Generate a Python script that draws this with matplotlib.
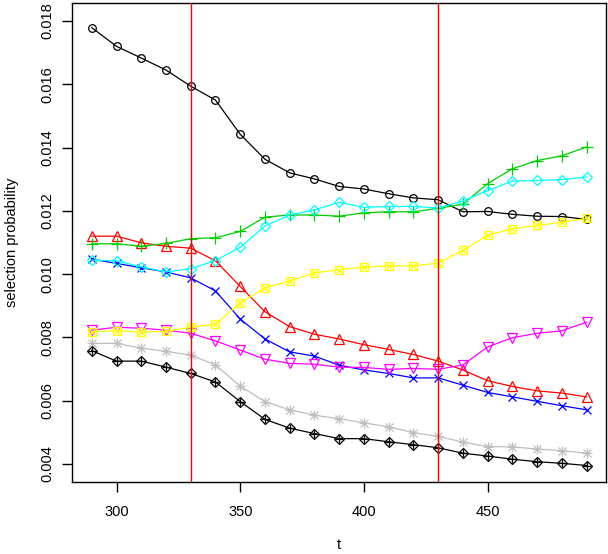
import numpy as np
import matplotlib.pyplot as plt

plt.rcParams['font.family'] = ['Liberation Sans', 'DejaVu Sans']

t = np.arange(290, 500, 10)

# selection probabilities per series
s1 = [0.01779, 0.01720, 0.01683, 0.01645, 0.01594, 0.01550, 0.01442, 0.01363, 0.01320, 0.01301, 0.01277,
      0.01269, 0.01254, 0.01241, 0.01235, 0.01197, 0.01198, 0.01189, 0.01183, 0.01182, 0.01173]
s2 = [0.01120, 0.01120, 0.01099, 0.01088, 0.01082, 0.01042, 0.00961, 0.00881, 0.00834, 0.00810, 0.00795,
      0.00777, 0.00762, 0.00746, 0.00725, 0.00697, 0.00663, 0.00645, 0.00631, 0.00624, 0.00612]
s3 = [0.01096, 0.01096, 0.01088, 0.01097, 0.01112, 0.01115, 0.01135, 0.01180, 0.01187, 0.01187, 0.01183,
      0.01194, 0.01197, 0.01197, 0.01208, 0.01221, 0.01286, 0.01333, 0.01359, 0.01374, 0.01402]
s4 = [0.01047, 0.01034, 0.01020, 0.01007, 0.00988, 0.00947, 0.00858, 0.00795, 0.00754, 0.00741, 0.00712,
      0.00697, 0.00686, 0.00672, 0.00672, 0.00649, 0.00626, 0.00612, 0.00598, 0.00584, 0.00571]
s5 = [0.01044, 0.01042, 0.01023, 0.01007, 0.01017, 0.01043, 0.01085, 0.01152, 0.01187, 0.01203, 0.01227,
      0.01211, 0.01214, 0.01214, 0.01209, 0.01231, 0.01264, 0.01294, 0.01296, 0.01299, 0.01307]
s6 = [0.00823, 0.00832, 0.00829, 0.00823, 0.00813, 0.00789, 0.00760, 0.00731, 0.00718, 0.00715, 0.00706,
      0.00705, 0.00699, 0.00702, 0.00699, 0.00713, 0.00770, 0.00799, 0.00813, 0.00821, 0.00848]
s7 = [0.00818, 0.00821, 0.00817, 0.00819, 0.00832, 0.00842, 0.00909, 0.00957, 0.00978, 0.01004, 0.01014,
      0.01022, 0.01026, 0.01026, 0.01035, 0.01075, 0.01123, 0.01143, 0.01154, 0.01164, 0.01176]
s8 = [0.00781, 0.00781, 0.00766, 0.00756, 0.00744, 0.00713, 0.00646, 0.00597, 0.00571, 0.00554, 0.00543,
      0.00530, 0.00517, 0.00499, 0.00487, 0.00469, 0.00455, 0.00454, 0.00447, 0.00442, 0.00434]
s9 = [0.00758, 0.00725, 0.00725, 0.00706, 0.00686, 0.00659, 0.00597, 0.00541, 0.00513, 0.00496, 0.00480,
      0.00480, 0.00470, 0.00461, 0.00451, 0.00434, 0.00425, 0.00415, 0.00407, 0.00402, 0.00395]

change_points = [330, 430]

series = [s1, s2, s3, s4, s5, s6, s7, s8, s9]
colors = ['black', '#FF0000', '#00CD00', '#0000FF', '#00FFFF', '#FF00FF', '#FFFF00', '#BEBEBE', 'black']
# R pch 1..9, second marker overlaid for compound symbols
markers = [('o', None, 5.5), ('^', None, 6.5), ('+', None, 8), ('x', None, 6),
           ('D', None, 5.5), ('v', None, 6.5), ('s', 'x', 5.5), ('+', 'x', 6.5), ('D', '+', 5.5)]

fig = plt.figure(figsize=(6.08, 5.54), dpi=100)
ax = fig.add_axes([0.1184, 0.13, 0.879, 0.8646])

for s, c, (m1, m2, ms) in zip(series, colors, markers):
    ax.plot(t, s, color=c, lw=0.9, marker=m1, ms=ms, mfc='none', mec=c, mew=0.9)
    if m2:
        ax.plot(t, s, ls='none', marker=m2, ms=ms * 0.9 if m2 == 'x' else ms, mec=c, mew=0.9)

for cp in change_points:
    ax.axvline(cp, color='#FF0000', lw=1.0, zorder=5)

ax.set_xlim(282, 498)
ax.set_ylim(0.00343, 0.01857)
ax.set_xticks([300, 350, 400, 450])
ax.set_yticks(np.arange(0.004, 0.0181, 0.002))
ax.set_yticklabels(['%.3f' % v for v in np.arange(0.004, 0.0181, 0.002)], rotation=90, va='center')
ax.tick_params(direction='out', length=7, width=1, labelsize=10.5)
ax.tick_params(axis='x', pad=9.5)
ax.tick_params(axis='y', pad=6)
for sp in ax.spines.values():
    sp.set_linewidth(1)
ax.set_xlabel('t', fontsize=10.5, labelpad=14)
ax.set_ylabel('selection probability', fontsize=10.5, labelpad=15)

fig.savefig('out.png', dpi=100)
